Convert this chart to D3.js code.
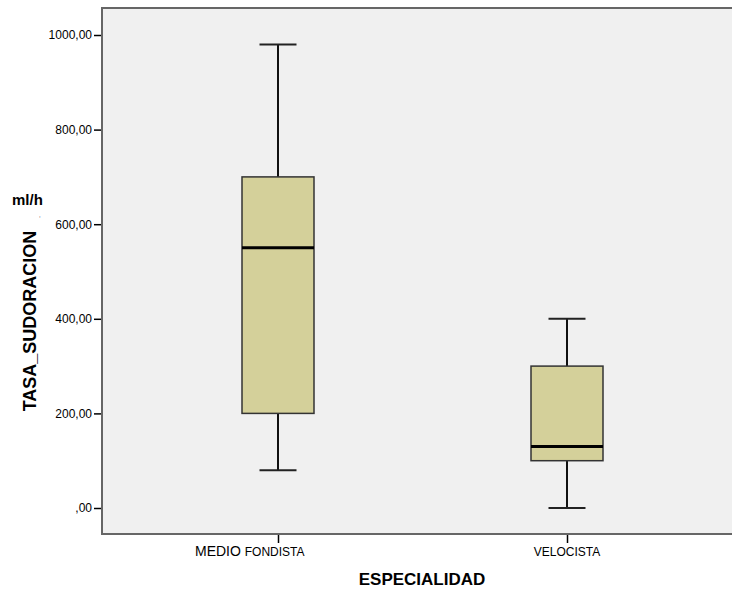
<!DOCTYPE html>
<html lang="es">
<head>
<meta charset="utf-8">
<title>Tasa de sudoración por especialidad</title>
<script src="https://cdn.jsdelivr.net/npm/d3@7"></script>
<style>
  body { margin: 0; background: #fff; }
  .axis text { font-family: Arial, "Liberation Sans", sans-serif; font-size: 12px; fill: #000; }
  .axis path, .axis line { stroke: #000; }
</style>
</head>
<body>
<script>
// data
var categories = ["MEDIO FONDISTA", "VELOCISTA"];
var mins    = [80, 0];
var q1s     = [200, 100];
var medians = [550, 130];
var q3s     = [700, 300];
var maxs    = [980, 400];
var yTicks  = [0, 200, 400, 600, 800, 1000];

var w = 732, h = 591;
var plotL = 102, plotT = 8, plotR = 733, plotB = 534;

var svg = d3.select("body").append("svg").attr("width", w).attr("height", h);

// plot background + frame
svg.append("rect")
   .attr("x", plotL).attr("y", plotT)
   .attr("width", plotR - plotL).attr("height", plotB - plotT)
   .attr("fill", "#f0f0f0")
   .attr("stroke", "#666").attr("stroke-width", 2);

var yScale = d3.scaleLinear().domain([0, 1000]).range([508, 35]);
var xScale = d3.scalePoint().domain(categories).range([278, 567]);

var fmt = function(d) { return d === 0 ? ",00" : d3.format(".2f")(d).replace(".", ","); };

var yAxis = d3.axisLeft(yScale).tickValues(yTicks).tickFormat(fmt).tickSize(7).tickPadding(2);
var gy = svg.append("g").attr("class", "axis").attr("transform", "translate(" + (plotL - 1) + ",0)").call(yAxis);
gy.select(".domain").remove();
gy.selectAll("line").attr("stroke-width", 1.5);

var xAxis = d3.axisBottom(xScale).tickSize(8).tickFormat("");
var gx = svg.append("g").attr("class", "axis").attr("transform", "translate(0," + (plotB + 1) + ")").call(xAxis);
gx.select(".domain").remove();
gx.selectAll("line").attr("stroke-width", 1.5);

// x category labels (SPSS-style mixed sizes)
var lab = svg.append("g").attr("font-family", "Arial, 'Liberation Sans', sans-serif").attr("fill", "#000");
var t1 = lab.append("text").attr("x", xScale(categories[0]) - 83).attr("y", 556);
t1.append("tspan").attr("font-size", "14px").text("MEDIO ");
t1.append("tspan").attr("font-size", "12px").text("FONDISTA");
lab.append("text").attr("x", xScale(categories[1])).attr("y", 556).attr("text-anchor", "middle")
   .attr("font-size", "12px").text("VELOCISTA");

var boxW = 72, capW = 37;
var boxes = svg.selectAll("g.box").data(categories).enter().append("g").attr("class", "box");

boxes.append("line")
   .attr("x1", function(d) { return xScale(d); }).attr("x2", function(d) { return xScale(d); })
   .attr("y1", function(d, i) { return yScale(maxs[i]); }).attr("y2", function(d, i) { return yScale(q3s[i]); })
   .attr("stroke", "#111").attr("stroke-width", 2);
boxes.append("line")
   .attr("x1", function(d) { return xScale(d); }).attr("x2", function(d) { return xScale(d); })
   .attr("y1", function(d, i) { return yScale(q1s[i]); }).attr("y2", function(d, i) { return yScale(mins[i]); })
   .attr("stroke", "#111").attr("stroke-width", 2);
boxes.append("line")
   .attr("x1", function(d) { return xScale(d) - capW / 2; }).attr("x2", function(d) { return xScale(d) + capW / 2; })
   .attr("y1", function(d, i) { return yScale(maxs[i]); }).attr("y2", function(d, i) { return yScale(maxs[i]); })
   .attr("stroke", "#222").attr("stroke-width", 2);
boxes.append("line")
   .attr("x1", function(d) { return xScale(d) - capW / 2; }).attr("x2", function(d) { return xScale(d) + capW / 2; })
   .attr("y1", function(d, i) { return yScale(mins[i]); }).attr("y2", function(d, i) { return yScale(mins[i]); })
   .attr("stroke", "#222").attr("stroke-width", 2);
boxes.append("rect")
   .attr("x", function(d) { return xScale(d) - boxW / 2; })
   .attr("y", function(d, i) { return yScale(q3s[i]); })
   .attr("width", boxW)
   .attr("height", function(d, i) { return yScale(q1s[i]) - yScale(q3s[i]); })
   .attr("fill", "#d4d09a").attr("stroke", "#333").attr("stroke-width", 1.5);
boxes.append("line")
   .attr("x1", function(d) { return xScale(d) - boxW / 2; }).attr("x2", function(d) { return xScale(d) + boxW / 2; })
   .attr("y1", function(d, i) { return yScale(medians[i]); }).attr("y2", function(d, i) { return yScale(medians[i]); })
   .attr("stroke", "#000").attr("stroke-width", 3);

// axis titles
svg.append("text")
   .attr("transform", "translate(36,321) rotate(-90)")
   .attr("text-anchor", "middle")
   .attr("font-family", "Arial, 'Liberation Sans', sans-serif")
   .attr("font-weight", "bold").attr("font-size", "18px")
   .text("TASA_SUDORACION");
svg.append("text")
   .attr("x", 12).attr("y", 205)
   .attr("font-family", "Arial, 'Liberation Sans', sans-serif")
   .attr("font-weight", "bold").attr("font-size", "15px")
   .text("ml/h");
svg.append("text")
   .attr("x", 39).attr("y", 217)
   .attr("font-family", "Arial, 'Liberation Sans', sans-serif")
   .attr("font-size", "6px")
   .text(",");
svg.append("text")
   .attr("x", 422).attr("y", 585)
   .attr("text-anchor", "middle")
   .attr("font-family", "Arial, 'Liberation Sans', sans-serif")
   .attr("font-weight", "bold").attr("font-size", "17px")
   .text("ESPECIALIDAD");
</script>
</body>
</html>
